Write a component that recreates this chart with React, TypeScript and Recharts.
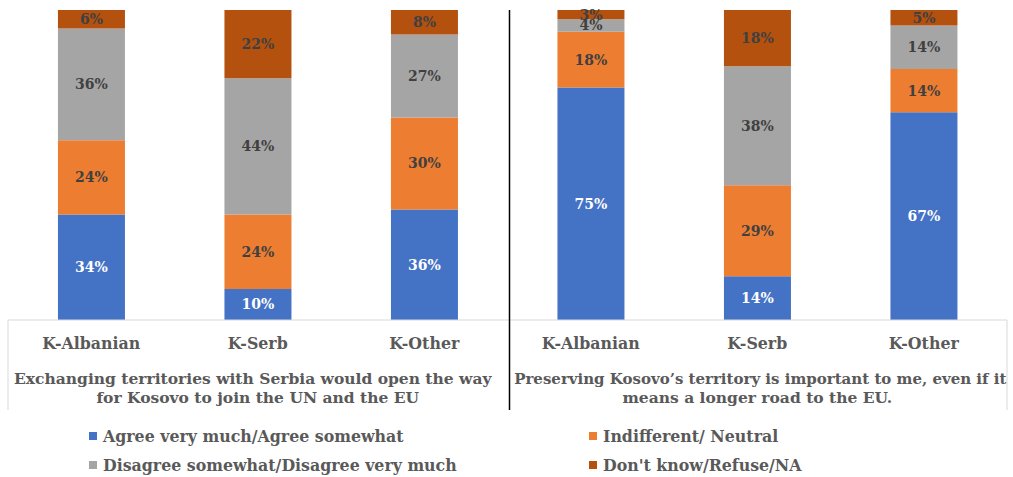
import React from "react";
import { BarChart, Bar, XAxis, YAxis, Legend, LabelList } from "recharts";

const categories = ["K-Albanian", "K-Serb", "K-Other"];
const groupTitles = [
  ["Exchanging territories with Serbia would open the way", "for Kosovo to join the UN and the EU"],
  ["Preserving Kosovo\u2019s territory is important to me, even if it", "means a longer road to the EU."],
];
// order: group1 (Alb, Serb, Other), group2 (Alb, Serb, Other)
const agree = [34, 10, 36, 75, 14, 67];
const neutral = [24, 24, 30, 18, 29, 14];
const disagree = [36, 44, 27, 4, 38, 14];
const dontKnow = [6, 22, 8, 3, 18, 5];

const seriesNames = [
  "Agree very much/Agree somewhat",
  "Indifferent/ Neutral",
  "Disagree somewhat/Disagree very much",
  "Don't know/Refuse/NA",
];
const colors = ["#4472C4", "#ED7D31", "#A5A5A5", "#B4510F"];

const data = agree.map((_, i) => ({
  key: `${Math.floor(i / 3)}-${categories[i % 3]}`,
  cat: categories[i % 3],
  group: Math.floor(i / 3),
  agree: agree[i],
  neutral: neutral[i],
  disagree: disagree[i],
  dontKnow: dontKnow[i],
}));

const W = 1013;
const H = 477;
const M = { top: 10, right: 6, left: 8, bottom: 0 };
const PLOT_W = W - M.left - M.right;
const BAND = PLOT_W / data.length;
const PLOT_TOP = M.top;
const AXIS_Y = 320;
const SEP_BOTTOM = 410;
const FONT = "'DejaVu Serif', serif";
const TEXT = "#595959";

const CatTick = (props: any) => {
  const { x, y, payload } = props;
  const label = String(payload.value).split("-").slice(1).join("-");
  return (
    <text x={x} y={y + 29} textAnchor="middle" fill={TEXT} fontFamily={FONT} fontWeight={700} fontSize={15.8}>
      {label}
    </text>
  );
};

const GroupTick = (props: any) => {
  const { x, index } = props;
  const items: any[] = [];
  if (index === 0) {
    items.push(<line key="l" x1={x - BAND / 2} x2={x - BAND / 2} y1={AXIS_Y} y2={SEP_BOTTOM} stroke="#D9D9D9" strokeWidth={1} />);
  }
  if (index === 2) {
    items.push(<line key="m" x1={x + BAND / 2 + 2} x2={x + BAND / 2 + 2} y1={PLOT_TOP} y2={SEP_BOTTOM} stroke="#000" strokeWidth={1.5} />);
  }
  if (index === 5) {
    items.push(<line key="r" x1={x + BAND / 2} x2={x + BAND / 2} y1={AXIS_Y} y2={SEP_BOTTOM} stroke="#D9D9D9" strokeWidth={1} />);
  }
  if (index === 1 || index === 4) {
    const lines = groupTitles[index === 1 ? 0 : 1];
    const cx = index === 1 ? x - 5 : x + 3;
    items.push(
      <text key="t" textAnchor="middle" fill={TEXT} fontFamily={FONT} fontWeight={700} fontSize={index === 1 ? 15.5 : 15}>
        <tspan x={cx} y={384}>{lines[0]}</tspan>
        <tspan x={x} y={403} fontSize={15.5}>{lines[1]}</tspan>
      </text>
    );
  }
  return <g>{items}</g>;
};

const LegendContent = () => {
  const pos = [
    { left: 89, top: 26 },
    { left: 589, top: 26 },
    { left: 89, top: 55 },
    { left: 589, top: 55 },
  ];
  const order = [0, 1, 2, 3];
  return (
    <div style={{ position: "relative", width: W, height: 67, fontFamily: FONT, fontWeight: 700, fontSize: 15.8, color: TEXT }}>
      {order.map((s, i) => (
        <div key={s} style={{ position: "absolute", left: pos[i].left, top: pos[i].top - 10, height: 20, display: "flex", alignItems: "center", whiteSpace: "nowrap" }}>
          <span style={{ display: "inline-block", width: 8, height: 8, background: colors[s], marginRight: 6 }} />
          <span>{seriesNames[s]}</span>
        </div>
      ))}
    </div>
  );
};

const labelStyle = { fontFamily: FONT, fontWeight: 700, fontSize: 14 };
const keys = ["agree", "neutral", "disagree", "dontKnow"];

export default function App() {
  return (
    <div style={{ position: "absolute", left: 0, top: 0, width: W, height: H, background: "#fff", overflow: "hidden" }}>
      <BarChart width={W} height={H} data={data} margin={M} stackOffset="expand" barCategoryGap="30%">
        <XAxis dataKey="key" tick={<CatTick />} tickLine={false} tickSize={0} tickMargin={0} axisLine={{ stroke: "#D9D9D9" }} height={45} interval={0} />
        <XAxis xAxisId="group" dataKey="key" tick={<GroupTick />} tickLine={false} tickSize={0} tickMargin={0} axisLine={false} height={45} interval={0} />
        <YAxis hide domain={[0, 1]} />
        {keys.map((k, i) => (
          <Bar key={k} dataKey={k} name={seriesNames[i]} stackId="a" fill={colors[i]} isAnimationActive={false}>
            <LabelList dataKey={k} position="center" formatter={(v: any) => `${v}%`} fill={i === 0 ? "#FFFFFF" : "#404040"} style={labelStyle} />
          </Bar>
        ))}
        <Legend verticalAlign="bottom" content={<LegendContent />} wrapperStyle={{ left: 0, bottom: 0, width: W, height: 67 }} />
      </BarChart>
    </div>
  );
}
